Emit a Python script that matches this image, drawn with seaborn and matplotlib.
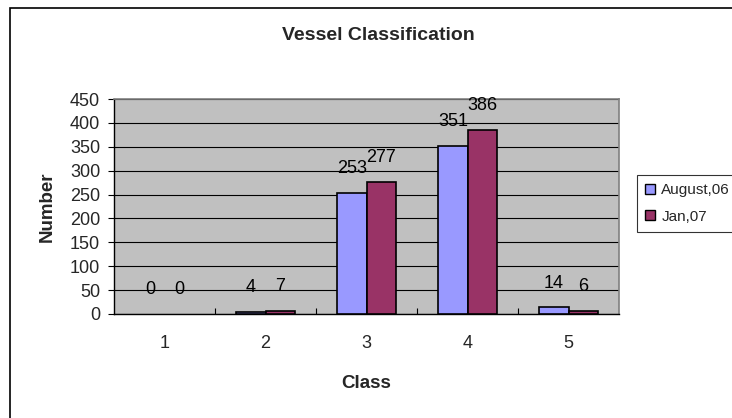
import matplotlib
matplotlib.use("Agg")
import matplotlib.pyplot as plt
from matplotlib.patches import Rectangle
from matplotlib.ticker import FixedLocator, MultipleLocator
import pandas as pd
import seaborn as sns

# Vessel counts per class for the two survey dates
classes = ["1", "2", "3", "4", "5"]
series_names = ["August,06", "Jan,07"]
august_06 = [0, 4, 253, 351, 14]
jan_07 = [0, 7, 277, 386, 6]
colors = ["#9999FF", "#993366"]

df = pd.DataFrame({
    "Class": classes * 2,
    "Series": [series_names[0]] * len(classes) + [series_names[1]] * len(classes),
    "Number": august_06 + jan_07,
})

sns.set_theme(style="white")
plt.rcParams["font.family"] = ["Liberation Sans", "DejaVu Sans"]

W, H = 732, 418
fig = plt.figure(figsize=(W / 100, H / 100), dpi=100)

# plot area in pixel coordinates
px_left, px_right, px_top, px_bottom = 114, 619, 99, 314
ax = fig.add_axes([px_left / W, 1 - px_bottom / H,
                   (px_right - px_left) / W, (px_bottom - px_top) / H])

sns.barplot(data=df, x="Class", y="Number", hue="Series", order=classes,
            hue_order=series_names, palette=colors, width=0.58,
            edgecolor="black", linewidth=1.2, saturation=1, ax=ax, zorder=3)

ax.set_facecolor("#C0C0C0")
ax.set_xlim(-0.5, len(classes) - 0.5)
ax.set_ylim(0, 450)
ax.yaxis.set_major_locator(MultipleLocator(50))
ax.grid(axis="y", color="black", linewidth=0.8, zorder=1)
ax.set_axisbelow(True)

for side in ["top", "right"]:
    ax.spines[side].set_color("#808080")
    ax.spines[side].set_linewidth(1.2)
for side in ["left", "bottom"]:
    ax.spines[side].set_color("black")
    ax.spines[side].set_linewidth(1.0)

ax.tick_params(axis="y", which="major", direction="out", length=4, width=0.8,
               color="black", labelsize=13, pad=6, left=True)
ax.tick_params(axis="x", which="major", length=0, labelsize=13, pad=15)
ax.xaxis.set_minor_locator(FixedLocator([i + 0.5 for i in range(len(classes) - 1)]))
ax.tick_params(axis="x", which="minor", direction="in", length=4, width=0.8,
               color="black", bottom=True)

ax.set_xlabel("Class", fontsize=13.5, fontweight="bold", labelpad=17)
ax.set_ylabel("Number", fontsize=13.5, fontweight="bold", labelpad=10)

# value labels above each bar; empty bars get no outline
for container in ax.containers:
    for bar, val in zip(container, container.datavalues):
        if val == 0:
            bar.set_linewidth(0)
        ax.annotate(f"{int(val)}", (bar.get_x() + bar.get_width() / 2, bar.get_height()),
                    xytext=(0, 17.5), textcoords="offset points",
                    ha="center", va="center", fontsize=13, color="black",
                    annotation_clip=False, zorder=5)

fig.text(378 / W, 1 - 35 / H, "Vessel Classification", ha="center", va="center",
         fontsize=14, fontweight="bold")

leg = ax.legend(loc="upper left", bbox_to_anchor=((637 - px_left) / (px_right - px_left),
                                                   (px_bottom - 175) / (px_bottom - px_top)),
                frameon=True, fancybox=False, fontsize=11, handlelength=0.65,
                handleheight=0.65, handletextpad=0.4, borderpad=0.55,
                labelspacing=0.8, borderaxespad=0)
leg.get_frame().set_edgecolor("black")
leg.get_frame().set_linewidth(0.8)
for h in leg.legend_handles:
    h.set_edgecolor("black")
    h.set_linewidth(1.0)

# chart frame (left and top edges visible)
fig.patches.append(Rectangle((10 / W, -0.2), 1.2, 1.2 - 8 / H,
                             transform=fig.transFigure, fill=False,
                             edgecolor="black", linewidth=1.2))

fig.savefig("out.png", dpi=100, facecolor="white")
